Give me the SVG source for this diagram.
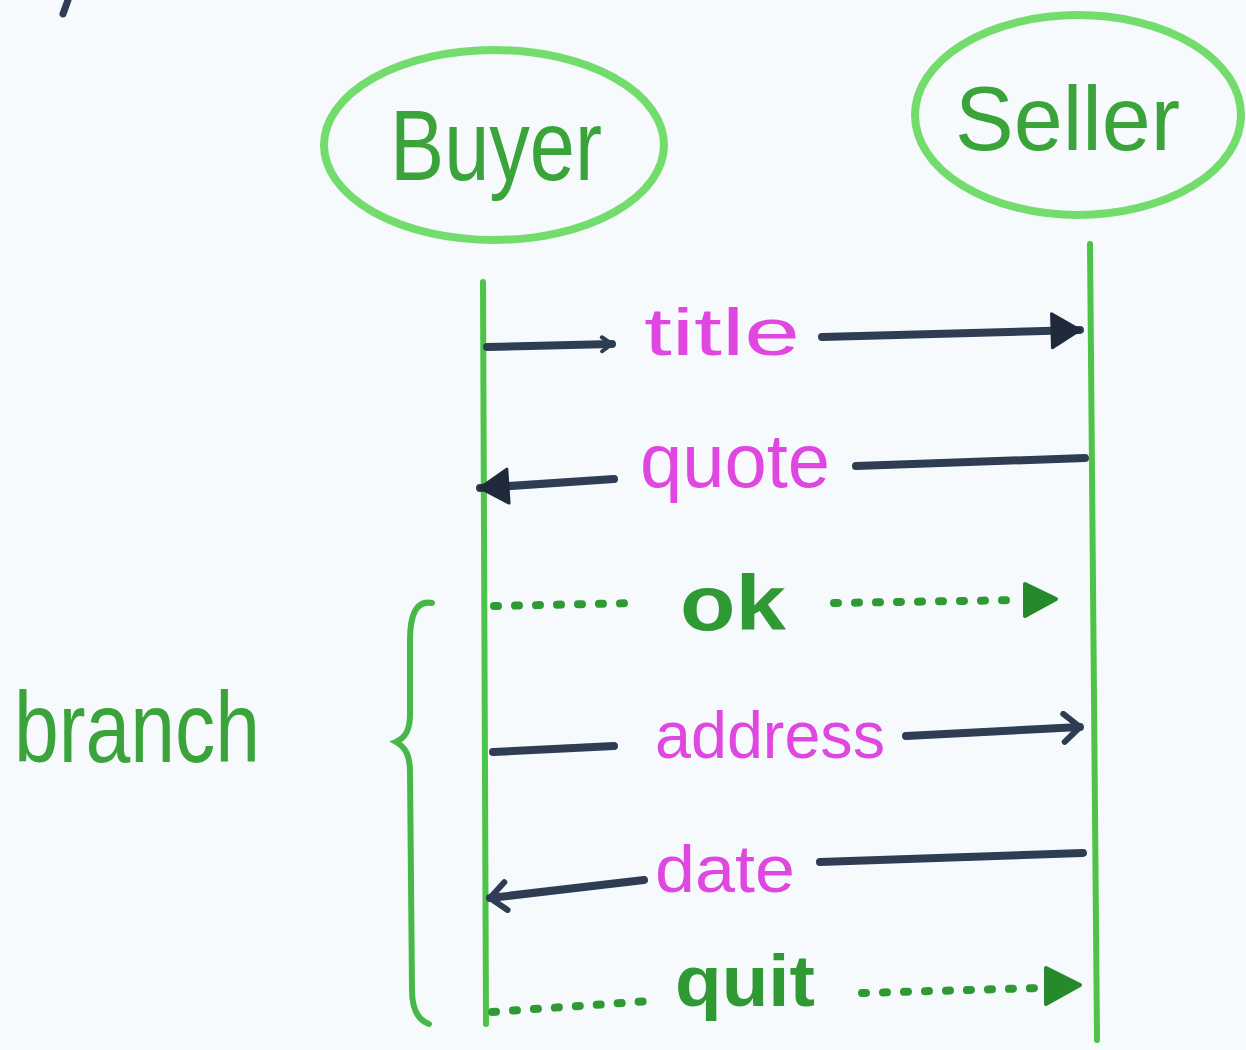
<svg xmlns="http://www.w3.org/2000/svg" width="1246" height="1050" viewBox="0 0 1246 1050">
<style>
.oval{fill:none;stroke:#72dc6c;stroke-width:8}
.life{fill:none;stroke:#4cc447;stroke-width:6;stroke-linecap:round}
.hdr{font-family:"Liberation Sans","Open Sans",sans-serif;fill:#3aa43a}
.msg{font-family:"Liberation Sans","Open Sans",sans-serif;fill:#e046e0}
.gmsg{font-family:"Liberation Sans","Open Sans",sans-serif;fill:#2f9a33;font-weight:bold}
.solid{fill:none;stroke:#2e3d52;stroke-width:8;stroke-linecap:round}
.dot{fill:none;stroke:#2f9a33;stroke-width:8;stroke-linecap:round;stroke-dasharray:4 17}
</style>
<defs>
<marker id="open" viewBox="0 0 20 20" refX="16" refY="10" markerWidth="20" markerHeight="20" markerUnits="userSpaceOnUse" orient="auto">
<path d="M6,3 L16,10 L6,17" fill="none" stroke="#2e3d52" stroke-width="4" stroke-linecap="round" stroke-linejoin="round"/>
</marker>
<marker id="openL" viewBox="0 0 34 34" refX="30" refY="17" markerWidth="34" markerHeight="34" markerUnits="userSpaceOnUse" orient="auto">
<path d="M14,3 L30,17 L14,31" fill="none" stroke="#2e3d52" stroke-width="6" stroke-linecap="round" stroke-linejoin="round"/>
</marker>
<marker id="fill" viewBox="0 0 34 40" refX="32" refY="20" markerWidth="34" markerHeight="40" markerUnits="userSpaceOnUse" orient="auto">
<path d="M4,3 L32,20 L4,37 Z" fill="#1f2a3a" stroke="#1f2a3a" stroke-width="3" stroke-linejoin="round"/>
</marker>
</defs>
<rect width="1246" height="1050" fill="#f6fafd"/>
<path d="M68,0 L63,14" stroke="#2e3d52" stroke-width="7" stroke-linecap="round" fill="none"/>

<g id="buyer">
<ellipse class="oval" cx="494" cy="145" rx="170" ry="95"/>
<text class="hdr" x="390" y="180" font-size="100" textLength="212" lengthAdjust="spacingAndGlyphs">Buyer</text>
<path class="life" d="M483,282 L486,1024"/>
</g>
<g id="seller">
<ellipse class="oval" cx="1078" cy="115" rx="163" ry="100"/>
<text class="hdr" x="955" y="150" font-size="90" textLength="225" lengthAdjust="spacingAndGlyphs">Seller</text>
<path class="life" d="M1090,244 L1097,1040"/>
</g>
<g id="branch">
<path d="M432,603 C416,600 410,615 410,640 L410,715 C410,733 403,739 396,742 C403,746 410,752 410,772 L412,990 C412,1010 418,1020 429,1024" fill="none" stroke="#46b84a" stroke-width="6" stroke-linecap="round"/>
<text class="hdr" x="14" y="762" font-size="100" fill="#36a83a" textLength="246" lengthAdjust="spacingAndGlyphs">branch</text>
</g>

<g id="connectors">
<path class="solid" d="M487,347 L612,344" marker-end="url(#open)"/>
<path class="solid" d="M822,337 L1080,330" marker-end="url(#fill)"/>
<text class="msg" x="644" y="355" font-size="66" textLength="156" lengthAdjust="spacingAndGlyphs">title</text>

<path class="solid" d="M1085,458 L856,466"/>
<path class="solid" d="M614,479 L480,488" marker-end="url(#fill)"/>
<text class="msg" x="640" y="487" font-size="76" textLength="190" lengthAdjust="spacingAndGlyphs">quote</text>

<path class="dot" d="M494,606 L638,603"/>
<path class="dot" d="M834,603 L1020,600"/>
<path d="M1025,584 L1056,599 L1025,616 Z" fill="#268a2c" stroke="#268a2c" stroke-width="4" stroke-linejoin="round"/>
<text class="gmsg" x="680" y="630" font-size="78" textLength="106" lengthAdjust="spacingAndGlyphs">ok</text>

<path class="solid" d="M493,752 L614,746"/>
<path class="solid" d="M906,736 L1080,727" marker-end="url(#openL)"/>
<text class="msg" x="655" y="758" font-size="66" textLength="230" lengthAdjust="spacingAndGlyphs">address</text>

<path class="solid" d="M1083,853 L820,862"/>
<path class="solid" d="M644,880 L490,898" marker-end="url(#openL)"/>
<text class="msg" x="655" y="892" font-size="66" textLength="140" lengthAdjust="spacingAndGlyphs">date</text>

<path class="dot" d="M492,1012 L650,1001"/>
<path class="dot" d="M862,993 L1040,988"/>
<path d="M1046,968 L1080,985 L1046,1004 Z" fill="#268a2c" stroke="#268a2c" stroke-width="4" stroke-linejoin="round"/>
<text class="gmsg" x="675" y="1006" font-size="72" textLength="140" lengthAdjust="spacingAndGlyphs">quit</text>
</g>
</svg>
